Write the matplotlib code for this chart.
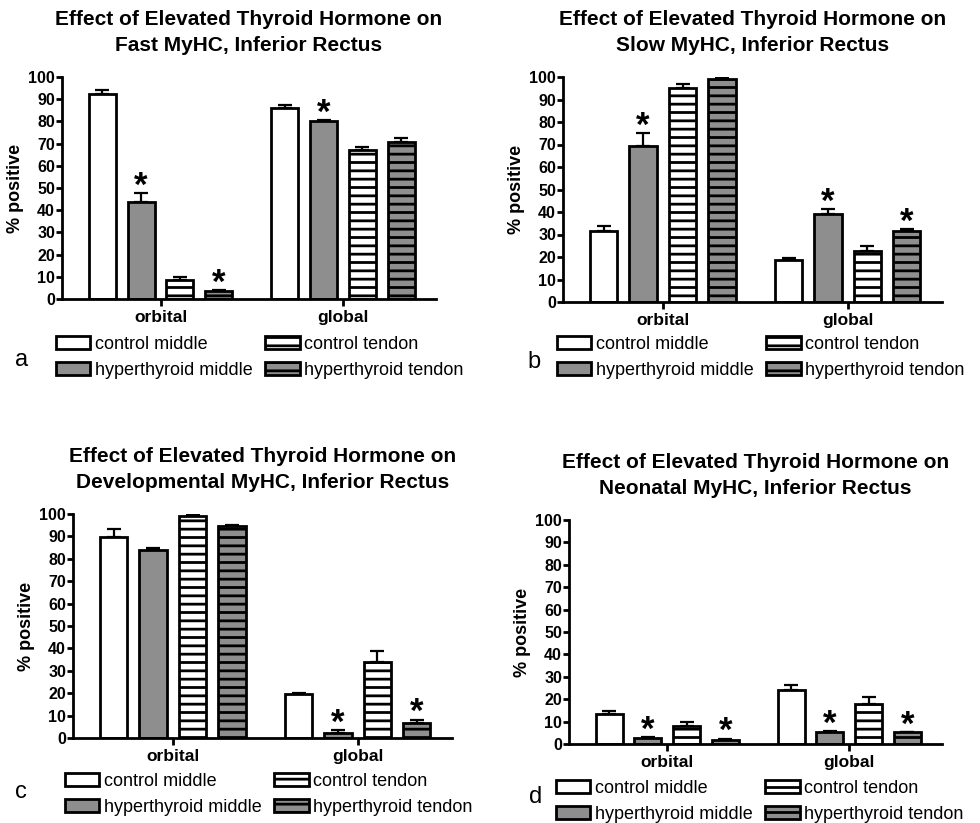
import matplotlib.pyplot as plt
import numpy as np

plt.rcParams['font.family'] = ['Liberation Sans', 'DejaVu Sans']
plt.rcParams['hatch.linewidth'] = 2.0

groups = ['orbital', 'global']
series = ['control middle', 'hyperthyroid middle', 'control tendon', 'hyperthyroid tendon']

# % positive fibres, one row per series: [orbital, global]
fast_mean = [[92.3, 85.9], [43.7, 80.2], [8.6, 67.1], [3.6, 70.9]]
fast_err = [[1.8, 1.3], [3.9, 0.4], [1.3, 1.5], [0.3, 1.5]]
fast_star = [[0, 0], [1, 1], [0, 0], [1, 0]]

slow_mean = [[31.5, 18.6], [69.2, 39.0], [95.1, 22.5], [99.0, 31.5]]
slow_err = [[2.4, 1.0], [5.7, 2.2], [1.9, 2.5], [0.6, 0.9]]
slow_star = [[0, 0], [1, 1], [0, 0], [0, 1]]

dev_mean = [[89.7, 19.8], [83.9, 2.2], [99.0, 33.8], [94.8, 6.7]]
dev_err = [[3.8, 0.3], [1.1, 1.2], [0.6, 5.0], [0.4, 1.5]]
dev_star = [[0, 0], [0, 1], [0, 0], [0, 1]]

neo_mean = [[13.4, 24.2], [2.7, 5.2], [8.2, 17.7], [1.9, 5.2]]
neo_err = [[1.2, 2.1], [0.4, 0.6], [1.6, 3.1], [0.5, 0.3]]
neo_star = [[0, 0], [1, 1], [0, 0], [1, 1]]

titles = ['Effect of Elevated Thyroid Hormone on\nFast MyHC, Inferior Rectus',
          'Effect of Elevated Thyroid Hormone on\nSlow MyHC, Inferior Rectus',
          'Effect of Elevated Thyroid Hormone on\nDevelopmental MyHC, Inferior Rectus',
          'Effect of Elevated Thyroid Hormone on\nNeonatal MyHC, Inferior Rectus']
letters = ['a', 'b', 'c', 'd']

faces = ['white', '#8e8e8e', 'white', '#8e8e8e']
hatches = [None, None, '--', '--']

W, H = 980, 823
fig = plt.figure(figsize=(W / 100, H / 100), dpi=100)


def px_rect(left, top, right, bottom):
    return [left / W, 1 - bottom / H, (right - left) / W, (bottom - top) / H]


# axes boxes, legend corner and letter position in pixels
layout = [
    dict(box=(62, 77, 436, 299), leg=(56, 336), let=(15, 360)),
    dict(box=(563, 77, 942, 302), leg=(557, 336), let=(527, 362)),
    dict(box=(73, 514, 452, 738), leg=(65, 773), let=(15, 792)),
    dict(box=(569, 520, 942, 744), leg=(556, 780), let=(529, 797)),
]

data = [(fast_mean, fast_err, fast_star), (slow_mean, slow_err, slow_star),
        (dev_mean, dev_err, dev_star), (neo_mean, neo_err, neo_star)]

for k in range(4):
    mean, err, star = data[k]
    lay = layout[k]
    ax = fig.add_axes(px_rect(*lay['box']))
    x = np.arange(len(groups))
    offs = (np.arange(4) - 1.5) * 0.213
    for i in range(4):
        ax.bar(x + offs[i], mean[i], width=0.148, color=faces[i], edgecolor='black',
               linewidth=2, hatch=hatches[i], label=series[i], zorder=2)
        ax.errorbar(x + offs[i], mean[i], yerr=[[0, 0], err[i]], fmt='none', ecolor='black',
                    elinewidth=1.6, capsize=5, capthick=1.6, zorder=1)
        for g in range(len(groups)):
            if star[i][g]:
                ax.annotate('*', (x[g] + offs[i], mean[i][g] + err[i][g]), xytext=(0, -7),
                            textcoords='offset points', ha='center', va='bottom',
                            fontsize=25, fontweight='bold')

    ax.set_xlim(-0.54, 1.51)
    ax.set_ylim(0, 100)
    ax.set_yticks(np.arange(0, 101, 10))
    ax.set_xticks(x)
    ax.set_xticklabels(groups, fontsize=12.5, fontweight='bold')
    for lab in ax.get_yticklabels():
        lab.set_fontweight('bold')
    ax.tick_params(axis='y', length=4, width=2, labelsize=11.5, pad=1)
    ax.tick_params(axis='x', length=5, width=2, pad=3)
    for s in ['top', 'right']:
        ax.spines[s].set_visible(False)
    for s in ['left', 'bottom']:
        ax.spines[s].set_linewidth(2)
    ax.set_ylabel('% positive', fontsize=13, fontweight='bold', labelpad=3)
    ax.set_title(titles[k], fontsize=15, fontweight='bold', pad=19, linespacing=1.45)

    lx, ly = lay['leg']
    ax.legend(loc='upper left', bbox_to_anchor=(lx / W, 1 - ly / H), bbox_transform=fig.transFigure,
              ncol=2, frameon=False, fontsize=13, handlelength=1.9, handleheight=0.75,
              handletextpad=0.25, columnspacing=0.7, labelspacing=0.5, borderpad=0,
              borderaxespad=0)
    tx, ty = lay['let']
    fig.text(tx / W, 1 - ty / H, letters[k], fontsize=17, va='center', ha='left')

fig.savefig('out.png', dpi=100)
